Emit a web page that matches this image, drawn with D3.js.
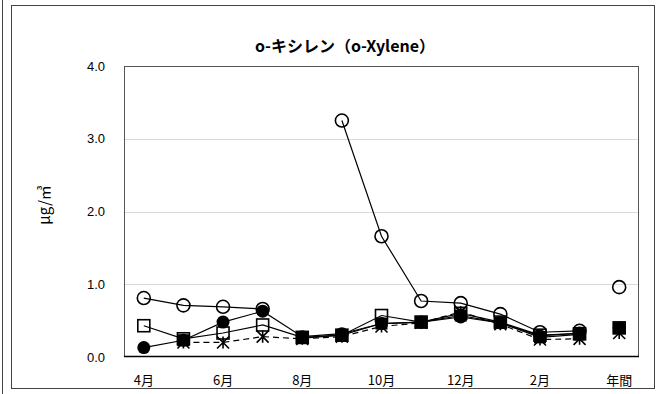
<!DOCTYPE html>
<html><head><meta charset="utf-8">
<script src="https://cdn.jsdelivr.net/npm/d3@7"></script>
<style>body{margin:0;background:#fff}svg{display:block}</style>
</head><body>
<svg id="c" width="662" height="394"></svg>
<script>
const categories = ["4月","5月","6月","7月","8月","9月","10月","11月","12月","1月","2月","3月","年間"];
const tickLabels = ["4月","","6月","","8月","","10月","","12月","","2月","","年間"];
const yTicks = [0,1,2,3,4];
const openCircle  = [0.81,0.71,0.69,0.66,null,3.25,1.66,0.77,0.74,0.59,0.34,0.36,0.96];
const openSquare  = [0.43,0.25,0.33,0.44,0.27,0.30,0.57,0.48,0.60,0.48,0.30,0.32,0.40];
const filledCircle= [0.13,0.23,0.48,0.63,0.28,0.32,0.46,0.48,0.55,0.47,0.29,0.33,0.40];
const filledSquare= [null,0.23,null,null,0.26,0.30,0.46,0.48,0.57,0.47,0.27,0.31,0.40];
const asterisk    = [null,0.20,0.20,0.28,0.25,0.28,0.42,0.47,0.62,0.45,0.24,0.25,0.33];

const svg = d3.select("#c");
const L=124,R=639,T=66,B=357;
const x = d3.scaleBand().domain(categories).range([L,R]);
const y = d3.scaleLinear().domain([0,4]).range([B,T]);
const cx = c => x(c)+x.bandwidth()/2;
const jp = "'Noto Sans CJK JP','Liberation Sans',sans-serif";

svg.append("line").attr("x1",2.5).attr("x2",2.5).attr("y1",0).attr("y2",394).attr("stroke","#444").attr("stroke-width",1);
svg.append("rect").attr("x",11.5).attr("y",5.5).attr("width",643).attr("height",383).attr("fill","#fff").attr("stroke","#444").attr("stroke-width",1);

svg.append("text").attr("x",345).attr("y",52).attr("text-anchor","middle")
  .attr("font-family",jp).attr("font-weight","bold").attr("font-size",16).attr("textLength",180).attr("lengthAdjust","spacingAndGlyphs")
  .text("o-キシレン（o-Xylene）");

// grid
svg.append("g").selectAll("line").data(yTicks.filter(d=>d>0&&d<4)).join("line")
  .attr("x1",L).attr("x2",R).attr("y1",d=>Math.round(y(d))+0.5).attr("y2",d=>Math.round(y(d))+0.5)
  .attr("stroke","#d9d9d9").attr("stroke-width",1);
svg.append("rect").attr("x",L+0.5).attr("y",T+0.5).attr("width",R-L-1).attr("height",B-T-1)
  .attr("fill","none").attr("stroke","#555").attr("stroke-width",1);
svg.append("line").attr("x1",L).attr("x2",R).attr("y1",B-0.5).attr("y2",B-0.5).attr("stroke","#000").attr("stroke-width",1.5);

// y axis labels
const yAxis = d3.axisLeft(y).tickValues(yTicks).tickFormat(d3.format(".1f")).tickSize(0).tickPadding(19);
const ya = svg.append("g").attr("transform",`translate(${L},0)`).call(yAxis);
ya.select(".domain").remove();
ya.selectAll("text").attr("font-family","'Liberation Sans Narrow','Liberation Sans',Arial,sans-serif").attr("font-size",13).attr("fill","#000");

const xAxis = d3.axisBottom(x).tickFormat((d,i)=>tickLabels[i]).tickSize(0).tickPadding(19);
const xa = svg.append("g").attr("transform",`translate(0,${B})`).call(xAxis);
xa.select(".domain").remove();
xa.selectAll("text").attr("font-family",jp).attr("font-size",13).attr("fill","#000");

svg.append("text").attr("transform","translate(50,205) rotate(-90)").attr("text-anchor","middle")
  .attr("font-family",jp).attr("font-size",15).text("μg/㎥");

function drawLine(vals, dash){
  const line = d3.line().defined(d=>d.v!=null).x(d=>cx(d.c)).y(d=>y(d.v));
  const data = categories.slice(0,12).map((c,i)=>({c,v:vals[i]}));
  svg.append("path").datum(data).attr("d",line).attr("fill","none").attr("stroke","#000")
    .attr("stroke-width",1.2).attr("stroke-dasharray",dash||null);
}
function pts(vals){ return categories.map((c,i)=>({c,v:vals[i]})).filter(d=>d.v!=null); }

drawLine(asterisk,"6,4");
drawLine(filledSquare);
drawLine(filledCircle);
drawLine(openSquare);
drawLine(openCircle);

// asterisk markers
const ag = svg.append("g");
pts(asterisk).forEach(d=>{
  const px=cx(d.c), py=y(d.v), s=6;
  ag.append("path").attr("d",`M${px-s},${py-s}L${px+s},${py+s}M${px+s},${py-s}L${px-s},${py+s}M${px},${py-s}L${px},${py+s}`)
    .attr("stroke","#000").attr("stroke-width",1.6);
});
// filled squares
svg.append("g").selectAll("rect").data(pts(filledSquare)).join("rect")
  .attr("x",d=>cx(d.c)-6).attr("y",d=>y(d.v)-6).attr("width",12).attr("height",12).attr("fill","#000");
// filled circles
svg.append("g").selectAll("circle").data(pts(filledCircle)).join("circle")
  .attr("cx",d=>cx(d.c)).attr("cy",d=>y(d.v)).attr("r",6.5).attr("fill","#000");
// open squares
svg.append("g").selectAll("rect").data(pts(openSquare)).join("rect")
  .attr("x",d=>cx(d.c)-6).attr("y",d=>y(d.v)-6).attr("width",12).attr("height",12)
  .attr("fill","none").attr("stroke","#000").attr("stroke-width",1.6);
// open circles
svg.append("g").selectAll("circle").data(pts(openCircle)).join("circle")
  .attr("cx",d=>cx(d.c)).attr("cy",d=>y(d.v)).attr("r",6.5)
  .attr("fill","none").attr("stroke","#000").attr("stroke-width",1.6);
</script>
</body></html>
